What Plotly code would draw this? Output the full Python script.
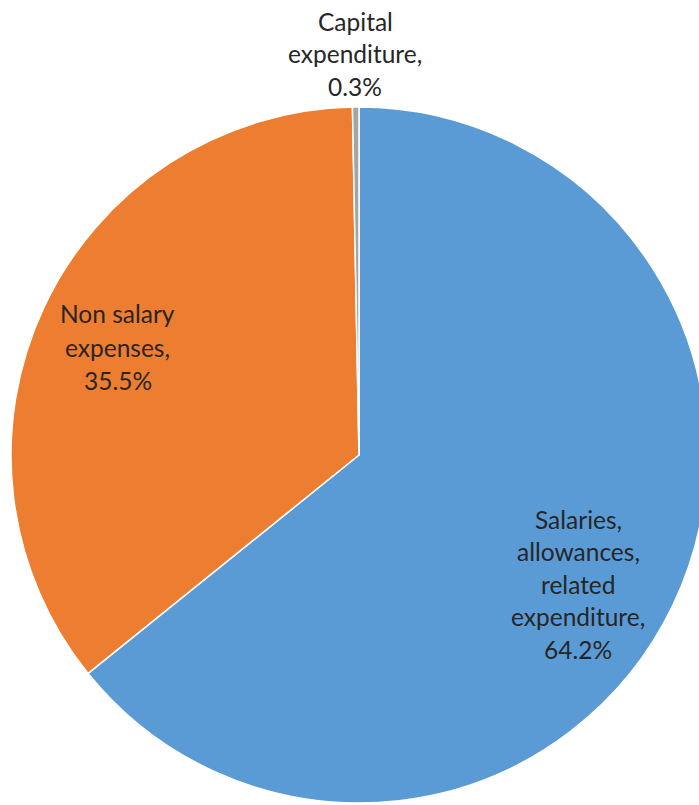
import plotly.graph_objects as go

# Data
categories = ["Salaries, allowances, related expenditure", "Non salary expenses", "Capital expenditure"]
shares = [64.2, 35.5, 0.3]
label_lines = [
    ["Salaries,", "allowances,", "related", "expenditure,", "64.2%"],
    ["Non salary", "expenses,", "35.5%"],
    ["Capital", "expenditure,", "0.3%"],
]
colors = ["#5B9BD5", "#ED7D31", "#A5A5A5"]

W, H = 718, 805

fig = go.Figure(go.Pie(
    labels=categories,
    values=shares,
    sort=False,
    direction="clockwise",
    rotation=0,
    marker=dict(colors=colors, line=dict(color="white", width=1.5)),
    textinfo="none",
    hoverinfo="label+percent",
    showlegend=False,
    domain=dict(x=[11 / W, 707 / W], y=[2 / H, (H - 107) / H]),
))

# label placement (pixel centres, first line y, line spacing)
label_pos = [(578, 519, 32.5), (118, 314, 33), (355, 22, 32)]
annotations = []
for lines, (cx, y0, dy) in zip(label_lines, label_pos):
    for i, line in enumerate(lines):
        annotations.append(dict(
            x=cx / W, y=1 - (y0 + i * dy) / H, xref="paper", yref="paper",
            text=line, showarrow=False, xanchor="center", yanchor="middle",
            font=dict(family="Lato", size=24.5, color="#262626"),
        ))

fig.update_layout(
    width=W, height=H,
    margin=dict(l=0, r=0, t=0, b=0),
    paper_bgcolor="white", plot_bgcolor="white",
    annotations=annotations,
)

fig.write_html("out.html", post_script="document.body.style.margin='0';document.body.style.overflow='hidden';document.documentElement.style.overflow='hidden';")
